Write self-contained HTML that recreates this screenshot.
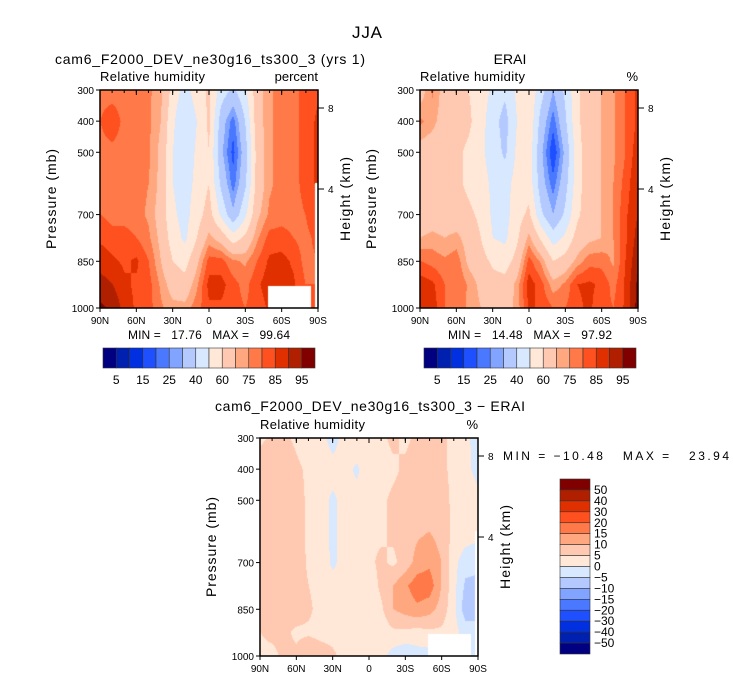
<!DOCTYPE html>
<html><head><meta charset="utf-8"><style>
body{margin:0;background:#fff;}
#root{position:relative;width:733px;height:680px;overflow:hidden;font-family:"Liberation Sans",sans-serif;}
canvas{position:absolute;}
svg{position:absolute;left:0;top:0;}
text{white-space:pre;}
</style></head><body>
<div id="root">
<canvas id="c1" width="218" height="218" style="left:100px;top:90px"></canvas>
<canvas id="c2" width="218" height="218" style="left:420px;top:90px"></canvas>
<canvas id="c3" width="218" height="218" style="left:260px;top:438px"></canvas>
<svg id="ov" width="733" height="680"></svg>
</div>
<script>
const lats=["90N","80N","70N","60N","50N","40N","30N","20N","10N","0","10S","20S","30S","40S","50S","60S","70S","80S","90S"];
const levs=[300,400,500,600,700,775,850,925,1000];
const latTicks=["90N","60N","30N","0","30S","60S","90S"];
const presTicks=[300,400,500,700,850,1000];
const rhLevels=[5,10,15,20,25,30,40,50,60,70,75,80,85,90,95];
const rhLabels=["5","15","25","40","60","75","85","95"];
const dfLevels=[-50,-40,-30,-20,-15,-10,-5,0,5,10,15,20,30,40,50];
const dfLabels=["50","40","30","20","15","10","5","0","−5","−10","−15","−20","−30","−40","−50"];
const colors=["#000080","#0020b0","#0030e0","#1e50ff","#4a78ff","#80a4ff","#b4caff","#d8e8ff","#ffe8d8","#ffc8b0","#ffa880","#ff7a48","#ff5020","#e03000","#b02000","#800000"];
const model=[
[78,77,77,76,76,72,56,46,55,62,45,38,48,66,74,77,78,82,84],
[80,84,78,77,76,70,52,40,50,62,35,22,40,66,74,77,78,82,86],
[78,78,77,77,76,68,50,42,52,60,32,18,35,64,74,77,78,82,86],
[76,77,77,77,75,68,50,45,53,60,38,22,38,64,74,77,78,82,86],
[80,78,78,77,74,66,52,46,56,64,48,32,48,68,76,78,78,80,86],
[84,82,82,80,76,68,55,48,60,72,66,55,62,74,82,82,80,78,82],
[88,86,84,86,80,70,60,56,68,82,82,76,74,80,86,87,84,78,80],
[92,90,86,84,82,74,66,64,74,87,87,82,78,84,88,88,86,80,80],
[96,94,88,84,82,76,72,72,78,84,84,82,80,82,86,86,84,80,80]];
const erai=[
[66,76,66,62,60,55,48,42,52,58,44,30,42,58,66,70,74,80,86],
[76,72,66,64,62,54,44,36,50,58,36,22,38,58,66,70,74,80,86],
[66,65,64,62,58,52,46,38,52,56,32,15,32,56,66,70,74,80,88],
[64,65,64,62,58,54,48,46,54,56,34,22,36,56,66,70,75,82,90],
[64,65,64,64,62,58,48,46,56,62,42,30,42,58,66,70,75,84,90],
[70,72,70,72,66,60,50,48,58,72,58,45,52,64,68,70,75,84,92],
[80,78,76,78,68,64,58,55,64,82,74,60,64,72,78,78,74,85,94],
[88,86,80,80,74,68,64,64,72,88,82,72,76,85,86,84,78,86,96],
[90,88,80,78,74,70,68,66,72,86,84,80,80,84,86,82,80,86,97]];
const diff=[
[4,6,6,4,2,2,-2,2,4,2,4,6,4,6,7,6,4,2,-3],
[8,10,8,6,4,2,2,2,-1,4,3,4,6,8,8,6,4,2,-2],
[8,9,9,7,4,2,-1,2,2,4,4,6,7,9,9,7,4,4,2],
[8,9,9,7,4,2,-1,2,2,4,4,6,7,9,10,8,4,3,2],
[8,9,9,8,4,3,-1,2,4,4,6,4,7,12,14,10,2,-3,-4],
[8,9,9,8,5,3,2,2,3,2,6,10,14,18,18,10,2,-6,-6],
[7,9,9,8,6,3,2,2,3,2,4,10,12,14,12,8,2,-8,-6],
[5,6,6,4,4,3,3,2,3,0,2,4,4,3,4,4,2,-2,-4],
[4,4,6,6,10,8,6,3,3,2,2,-2,-4,-2,-2,0,0,0,0]];

function hex(c){return [parseInt(c.substr(1,2),16),parseInt(c.substr(3,2),16),parseInt(c.substr(5,2),16)];}
const rgb=colors.map(hex);
function classify(v,lv){let i=0;while(i<lv.length&&v>=lv[i])i++;return i;}
function sample(g,fx,p){
  const n=lats.length-1;let xi=Math.min(Math.floor(fx*n),n-1);const tx=fx*n-xi;
  let k=0;while(k<levs.length-2&&p>levs[k+1])k++;const ty=Math.max(0,Math.min(1,(p-levs[k])/(levs[k+1]-levs[k])));
  const a=g[k][xi]*(1-tx)+g[k][xi+1]*tx,b=g[k+1][xi]*(1-tx)+g[k+1][xi+1]*tx;return a*(1-ty)+b*ty;}
function drawField(id,g,lv,mask){
  const cv=document.getElementById(id),ctx=cv.getContext('2d'),W=cv.width,H=cv.height;
  const im=ctx.createImageData(W,H);
  for(let y=0;y<H;y++)for(let x=0;x<W;x++){
    const v=sample(g,x/(W-1),300+700*y/(H-1));const c=rgb[classify(v,lv)];const o=(y*W+x)*4;
    im.data[o]=c[0];im.data[o+1]=c[1];im.data[o+2]=c[2];im.data[o+3]=255;}
  ctx.putImageData(im,0,0);
  if(mask){ctx.fillStyle="#fff";ctx.fillRect(168,196,43,22);ctx.fillRect(215,93,3,125);}
}
drawField('c1',model,rhLevels,true);
drawField('c2',erai,rhLevels,false);
drawField('c3',diff,dfLevels,true);

const NS="http://www.w3.org/2000/svg",ov=document.getElementById('ov');
function el(tag,attrs,txt,parent){const e=document.createElementNS(NS,tag);for(const k in attrs)e.setAttribute(k,attrs[k]);if(txt!==undefined)e.textContent=txt;(parent||ov).appendChild(e);return e;}
function txt(x,y,s,size,anchor,name,extra){const t=el('text',Object.assign({x:x,y:y,'font-size':size,'text-anchor':anchor||'start','font-family':'Liberation Sans, sans-serif',fill:'#000'},extra||{}),s);return t;}
function TL(w){return {textLength:w,lengthAdjust:'spacing'};}
function latX(x0,lab){const i=lats.indexOf(lab);return x0+218*i/(lats.length-1);}
function presY(y0,p){return y0+218*(p-300)/700;}
function axes(x0,y0,unit,unitW,pfx){
  const r=el('rect',{x:x0,y:y0,width:218,height:218,fill:'none',stroke:'#000','stroke-width':1.5});
  
  txt(x0,y0-9,"Relative humidity",13,'start',pfx+'-variable-label',TL(105));
  txt(x0+218,y0-9,unit,13,'end',pfx+'-units-label');
  latTicks.forEach(l=>{const x=latX(x0,l);
    el('line',{x1:x,y1:y0+218,x2:x,y2:y0+222,stroke:'#000'});el('line',{x1:x,y1:y0,x2:x,y2:y0+5,stroke:'#000'});
    txt(x,y0+234,l,10,'middle',pfx+'-lat-tick-label');});
  for(let i=0;i<=18;i++){const x=x0+218*i/18;el('line',{x1:x,y1:y0,x2:x,y2:y0+3,stroke:'#000'});}
  presTicks.forEach(p=>{const y=presY(y0,p);el('line',{x1:x0-4,y1:y,x2:x0,y2:y,stroke:'#000'});
    txt(x0-6,y+4,String(p),10,'end',pfx+'-pressure-tick-label');});
  [[8,18],[4,99]].forEach(h=>{const y=y0+h[1];el('line',{x1:x0+218,y1:y,x2:x0+224,y2:y,stroke:'#000'});
    txt(x0+228,y+4,String(h[0]),10,'start',pfx+'-height-tick-label');});
  txt(0,0,"Pressure (mb)",14,'middle',pfx+'-y-axis-title',Object.assign({transform:`translate(${x0-44},${y0+109}) rotate(-90)`},TL(100)));
  txt(0,0,"Height (km)",14,'middle',pfx+'-right-axis-title',Object.assign({transform:`translate(${x0+250},${y0+109}) rotate(-90)`},TL(84)));
}
txt(352,38,"JJA",17,'start','figure-title',TL(30));
txt(55,64,"cam6_F2000_DEV_ne30g16_ts300_3 (yrs 1)",14,'start','model-panel-title',TL(310));
txt(510,64,"ERAI",14,'middle','erai-panel-title');
txt(215,411,"cam6_F2000_DEV_ne30g16_ts300_3 − ERAI",14,'start','diff-panel-title',TL(310));
axes(100,90,"percent",40,"model");axes(420,90,"%",10,"erai");axes(260,438,"%",10,"diff");
txt(128,339,"MIN =   17.76   MAX =   99.64",12,'start','model-min-max',TL(162));
txt(448,339,"MIN =   14.48   MAX =   97.92",12,'start','erai-min-max',TL(164));
txt(503,460,"MIN = −10.48   MAX =   23.94",12,'start','diff-min-max',TL(226));
function hbar(x0,pfx){const w=212/16;
  colors.forEach((c,i)=>{const r=el('rect',{x:x0+i*w,y:348,width:w,height:20,fill:c,stroke:'#333','stroke-width':0.6});
    });
  rhLabels.forEach((l,j)=>{txt(x0+(2*j+1)*w,384,l,12,'middle',pfx+'-colorbar-label');});}
hbar(103,'model');hbar(424,'erai');
(function(){const h=175/16;
  colors.slice().reverse().forEach((c,i)=>{const r=el('rect',{x:560,y:479+i*h,width:30,height:h,fill:c,stroke:'#333','stroke-width':0.6});
    });
  dfLabels.forEach((l,j)=>{txt(594,479+(j+1)*h+4,l,12,'start','diff-colorbar-label');});})();
</script>
</body></html>
